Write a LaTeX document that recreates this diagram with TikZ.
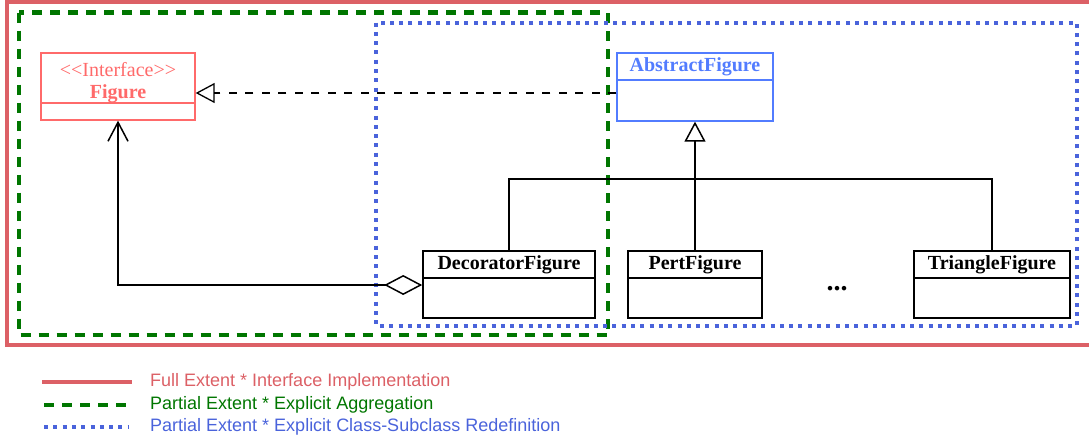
\documentclass[tikz,border=0pt]{standalone}
\usepackage{fontspec}
\setmainfont{Liberation Serif}
\newfontfamily\legendfont{Liberation Sans}
\usetikzlibrary{arrows.meta}
\definecolor{fullred}{RGB}{220,96,102}
\definecolor{ifacered}{RGB}{255,106,106}
\definecolor{aggreen}{RGB}{0,118,0}
\definecolor{redefblue}{RGB}{74,99,219}
\definecolor{absblue}{RGB}{82,124,255}
\tikzset{
  classname/.style={draw, line width=1.6pt, inner sep=0pt, minimum height=27pt,
    font=\bfseries\fontsize{20}{24}\selectfont},
  classbody/.style={draw, line width=1.6pt, inner sep=0pt, minimum height=40pt},
  legendtext/.style={anchor=west, inner sep=0pt, font=\legendfont\fontsize{18}{22}\selectfont},
}
\begin{document}
\begin{tikzpicture}[x=1pt, y=-1pt]
\useasboundingbox (0,0) rectangle (1089,442);
% extents
\draw[fullred, line width=4pt] (6.5,2) rectangle (1100,345);
\draw[aggreen, line width=4.5pt, dash pattern=on 10pt off 8pt] (19,12.5) rectangle (608,335);
\draw[redefblue, line width=4pt, dash pattern=on 4pt off 5.3pt] (376,22.5) rectangle (1077,325.5);

% classes
\path (118,78) node[classname, ifacered, line width=1.3pt, minimum width=154pt, minimum height=50pt] (figname) {};
\path (118,69.5) node[text=ifacered, font=\fontsize{20}{24}\selectfont, inner sep=0pt] (ifacetag) {<{}<Interface>{}>};
\path (118,94) node[text=ifacered, font=\bfseries\fontsize{20}{24}\selectfont, inner sep=0pt] (figtitle) {Figure};
\path (118,111.5) node[classbody, ifacered, line width=1.3pt, minimum width=154pt, minimum height=17pt] (figbody) {};
\path (695,66.5) node[classname, absblue, line width=1.3pt, minimum width=156pt] (absname) {AbstractFigure};
\path (695,100.5) node[classbody, absblue, line width=1.3pt, minimum width=156pt, minimum height=41pt] (absbody) {};
\path (509,264.5) node[classname, minimum width=172pt] (decname) {DecoratorFigure};
\path (509,298) node[classbody, minimum width=172pt] (decbody) {};
\path (695,264.5) node[classname, minimum width=134pt] (pertname) {PertFigure};
\path (695,298) node[classbody, minimum width=134pt] (pertbody) {};
\path (992,264.5) node[classname, minimum width=156pt] (triname) {TriangleFigure};
\path (992,298) node[classbody, minimum width=156pt] (tribody) {};
\path (837,289) node[font=\bfseries\fontsize{28}{30}\selectfont] (more) {...};

% relations
\draw[line width=1.3pt, dash pattern=on 8pt off 8.5pt, -{Triangle[open, length=19pt, width=20pt]}]
  ([yshift=7.5pt]absbody.west) coordinate (impl) -- (impl -| figname.east);
\coordinate (bar) at (695,179);
\draw[line width=1.5pt, -{Triangle[open, length=20pt, width=21pt]}] (pertname.north) -- (absbody.south);
\draw[line width=1.5pt] (decname.north) |- (bar) -| (triname.north);
\draw[line width=1.5pt, {Diamond[open, length=38pt, width=20pt]}-{Straight Barb[length=19pt, width=20pt]}]
  ([yshift=13pt]decbody.west) -| (figbody.south);

% legend
\draw[fullred, line width=4pt] (42,382) -- (132,382);
\draw[aggreen, line width=4.5pt, dash pattern=on 10pt off 8pt] (44,405) -- (126,405);
\draw[redefblue, line width=4pt, dash pattern=on 4pt off 5.3pt] (44,427) -- (129,427);
\path (150,382) node[legendtext, text=fullred] (fulltxt) {Full Extent * Interface Implementation};
\path (150,405) node[legendtext, text=aggreen] (aggtxt) {Partial Extent * Explicit Aggregation};
\path (150,427) node[legendtext, text=redefblue] (redeftxt) {Partial Extent * Explicit Class-Subclass Redefinition};
\end{tikzpicture}
\end{document}
